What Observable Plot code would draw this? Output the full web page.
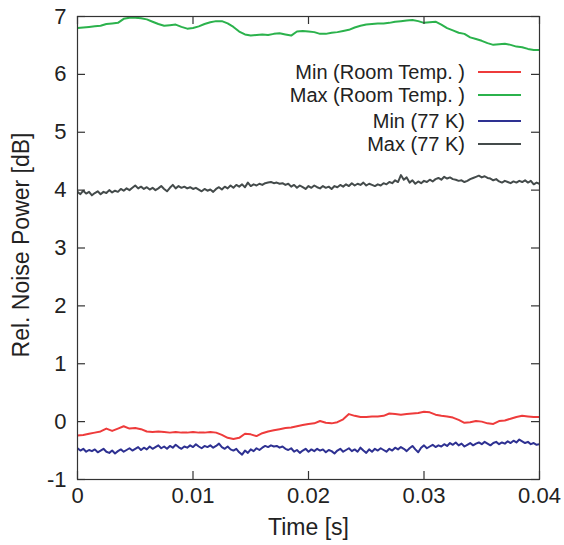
<!DOCTYPE html>
<html><head><meta charset="utf-8">
<script src="https://cdn.jsdelivr.net/npm/d3@7"></script>
<script src="https://cdn.jsdelivr.net/npm/@observablehq/plot@0.6"></script>
<style>
body{margin:0;background:#fff;}
#wrap{position:relative;width:564px;height:545px;font-family:"Liberation Sans",Arial,Helvetica,sans-serif;color:#222;}
.legtext{position:absolute;right:99px;font-size:20px;line-height:24px;white-space:nowrap;text-align:right;}
.legline{position:absolute;left:478px;width:43px;height:2px;}
</style></head><body><div id="wrap"></div>
<script>
const seriesNames = ["Min (Room Temp. )", "Max (Room Temp. )", "Min (77 K)", "Max (77 K)"];
const seriesColors = ["#ee3b3b", "#2bb24c", "#2e3192", "#444b4b"];
const tEnd = 0.04;
const xTicks = [0, 0.01, 0.02, 0.03, 0.04];
const yTicks = [-1, 0, 1, 2, 3, 4, 5, 6, 7];

const minRoom = [-0.24,-0.23,-0.21,-0.19,-0.17,-0.12,-0.16,-0.12,-0.08,-0.12,
-0.11,-0.13,-0.17,-0.18,-0.17,-0.18,-0.19,-0.18,-0.19,-0.19,
-0.18,-0.19,-0.19,-0.18,-0.19,-0.23,-0.28,-0.30,-0.28,-0.21,
-0.22,-0.25,-0.20,-0.17,-0.15,-0.13,-0.11,-0.10,-0.08,-0.06,
-0.04,-0.03,0.01,-0.02,-0.03,-0.01,0.04,0.13,0.10,0.08,
0.08,0.09,0.09,0.10,0.14,0.13,0.12,0.13,0.14,0.15,
0.17,0.16,0.12,0.10,0.09,0.07,0.03,-0.02,-0.01,0.01,
0.00,-0.03,-0.04,0.01,0.02,0.05,0.08,0.10,0.09,0.08,0.08];

const maxRoom = [6.80,6.81,6.82,6.83,6.84,6.87,6.88,6.89,6.96,6.98,
6.98,6.97,6.95,6.91,6.87,6.84,6.85,6.86,6.82,6.79,
6.80,6.83,6.87,6.90,6.92,6.92,6.88,6.82,6.74,6.69,
6.67,6.68,6.69,6.68,6.70,6.71,6.69,6.67,6.74,6.75,
6.74,6.73,6.70,6.70,6.72,6.73,6.75,6.77,6.81,6.84,
6.86,6.87,6.88,6.88,6.89,6.91,6.92,6.93,6.94,6.92,
6.89,6.90,6.91,6.86,6.80,6.76,6.72,6.70,6.64,6.61,
6.58,6.54,6.51,6.52,6.53,6.51,6.48,6.47,6.44,6.42,6.42];

const min77 = [-0.46,-0.50,-0.47,-0.52,-0.49,-0.51,-0.48,-0.53,-0.50,-0.47,
-0.52,-0.54,-0.50,-0.55,-0.51,-0.48,-0.52,-0.49,-0.46,-0.50,
-0.47,-0.44,-0.49,-0.45,-0.48,-0.43,-0.47,-0.44,-0.41,-0.46,
-0.43,-0.47,-0.42,-0.45,-0.40,-0.44,-0.47,-0.43,-0.45,-0.41,
-0.44,-0.39,-0.43,-0.46,-0.42,-0.44,-0.41,-0.45,-0.42,-0.38,
-0.44,-0.47,-0.43,-0.48,-0.50,-0.47,-0.53,-0.57,-0.50,-0.54,
-0.48,-0.51,-0.46,-0.49,-0.45,-0.42,-0.44,-0.41,-0.43,-0.42,
-0.45,-0.43,-0.47,-0.49,-0.46,-0.52,-0.49,-0.54,-0.50,-0.47,
-0.52,-0.48,-0.51,-0.47,-0.50,-0.48,-0.53,-0.49,-0.51,-0.55,
-0.50,-0.47,-0.52,-0.49,-0.46,-0.51,-0.48,-0.52,-0.45,-0.50,
-0.54,-0.48,-0.52,-0.47,-0.50,-0.46,-0.49,-0.52,-0.47,-0.50,
-0.45,-0.48,-0.44,-0.47,-0.51,-0.46,-0.42,-0.48,-0.53,-0.45,
-0.41,-0.46,-0.43,-0.40,-0.44,-0.41,-0.43,-0.39,-0.42,-0.37,
-0.40,-0.36,-0.41,-0.38,-0.43,-0.40,-0.37,-0.41,-0.38,-0.36,
-0.39,-0.35,-0.38,-0.41,-0.37,-0.35,-0.39,-0.36,-0.38,-0.34,
-0.37,-0.33,-0.36,-0.31,-0.34,-0.37,-0.35,-0.39,-0.37,-0.40,-0.39];

const max77 = [3.97,3.93,3.99,3.94,3.97,3.91,3.95,3.98,3.93,3.97,
3.95,4.00,3.96,3.99,3.97,4.02,3.99,4.03,4.00,4.04,
4.08,4.03,4.06,4.02,4.05,4.01,4.04,4.00,4.03,4.07,
4.02,3.98,4.04,4.09,4.03,4.07,4.04,4.06,4.03,4.05,
4.02,4.04,4.01,3.98,4.02,3.99,4.01,3.97,4.02,4.05,
4.01,4.06,4.03,4.08,4.04,4.09,4.06,4.10,4.05,4.13,
4.07,4.10,4.08,4.11,4.09,4.12,4.13,4.14,4.12,4.13,
4.11,4.12,4.09,4.11,4.06,4.09,4.04,4.08,4.05,4.02,
4.07,4.04,4.08,4.05,4.03,4.07,4.04,4.06,4.02,4.07,
4.05,4.09,4.06,4.10,4.07,4.12,4.08,4.11,4.09,4.13,
4.08,4.11,4.09,4.07,4.10,4.08,4.12,4.10,4.14,4.12,
4.17,4.14,4.26,4.18,4.22,4.13,4.17,4.11,4.15,4.12,
4.16,4.14,4.18,4.15,4.19,4.21,4.18,4.23,4.20,4.22,
4.19,4.18,4.16,4.17,4.14,4.16,4.19,4.21,4.23,4.25,
4.22,4.24,4.21,4.20,4.17,4.19,4.15,4.13,4.16,4.14,
4.12,4.15,4.13,4.16,4.14,4.17,4.13,4.16,4.10,4.13,4.11];

const seriesValues = [minRoom, maxRoom, min77, max77];
const seriesWidths = [2, 2, 2, 2];

function rows(vals) {
  const n = vals.length;
  return vals.map((v, i) => ({t: i * tEnd / (n - 1), v}));
}

const W = 564, H = 545, mL = 77, mR = 25, mT = 16, mB = 66;
const fw = W - mL - mR, fh = H - mT - mB, tk = 8;
const font = '"Liberation Sans", Arial, Helvetica, sans-serif';

const marks = [];
seriesValues.forEach((vals, i) => {
  marks.push(Plot.line(rows(vals), {x: "t", y: "v", stroke: seriesColors[i], strokeWidth: seriesWidths[i], strokeLinejoin: "round", clip: true}));
});
marks.push(
  Plot.frame({stroke: "#333", strokeWidth: 1.2}),
  Plot.tickX(xTicks, {x: d => d, insetTop: fh - tk, stroke: "#333", strokeWidth: 1.2}),
  Plot.tickX(xTicks, {x: d => d, insetBottom: fh - tk, stroke: "#333", strokeWidth: 1.2}),
  Plot.tickY(yTicks, {y: d => d, insetRight: fw - tk, stroke: "#333", strokeWidth: 1.2}),
  Plot.tickY(yTicks, {y: d => d, insetLeft: fw - tk, stroke: "#333", strokeWidth: 1.2}),
  Plot.axisX(xTicks, {tickSize: 0, tickPadding: 8, fontSize: 22, label: null, tickFormat: d => String(d), fill: "#222"}),
  Plot.axisY(yTicks, {tickSize: 0, tickPadding: 11, fontSize: 22, label: null, tickFormat: d => String(d), fill: "#222"}),
  Plot.text(["Time [s]"], {frameAnchor: "bottom", lineAnchor: "middle", textAnchor: "middle", dy: 48, fontSize: 23, fill: "#222"}),
  Plot.text(["Rel. Noise Power [dB]"], {frameAnchor: "left", textAnchor: "middle", lineAnchor: "middle", dx: -56, dy: -3, rotate: -90, fontSize: 23, fill: "#222"})
);

const chart = Plot.plot({
  width: W, height: H,
  marginLeft: mL, marginRight: mR, marginTop: mT, marginBottom: mB,
  x: {domain: [0, tEnd]},
  y: {domain: [-1, 7]},
  style: {fontFamily: font, background: "white", color: "#222", overflow: "visible"},
  marks
});

const wrap = document.getElementById("wrap");
wrap.appendChild(chart);

const legendRowY = [72, 95, 121, 144];
seriesNames.forEach((name, i) => {
  const t = document.createElement("div");
  t.className = "legtext";
  t.style.top = (legendRowY[i] - 12) + "px";
  t.textContent = name;
  wrap.appendChild(t);
  const l = document.createElement("div");
  l.className = "legline";
  l.style.top = (legendRowY[i] - 1) + "px";
  l.style.background = seriesColors[i];
  wrap.appendChild(l);
});
</script>
</body></html>
